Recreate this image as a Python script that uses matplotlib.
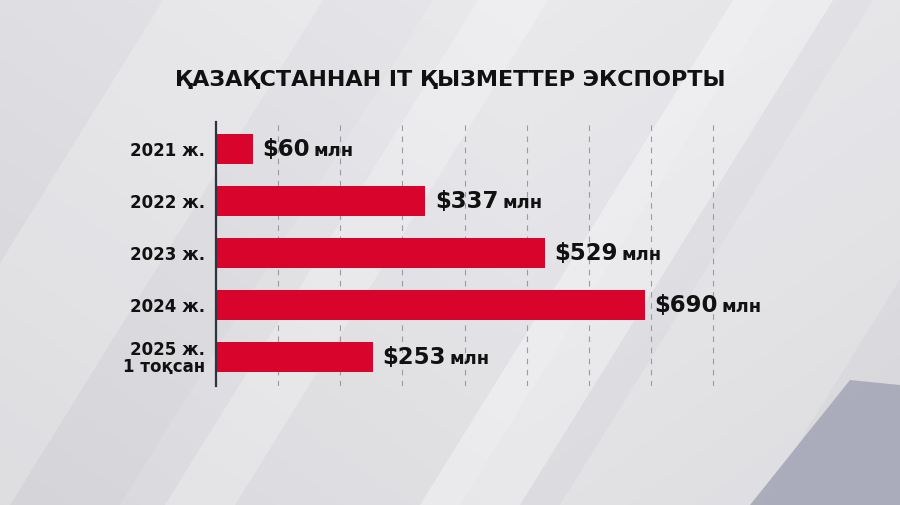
import numpy as np
import matplotlib.pyplot as plt
from matplotlib.patches import Polygon

# data
categories = ["2021 ж.", "2022 ж.", "2023 ж.", "2024 ж.", "2025 ж.\n1 тоқсан"]
values = [60, 337, 529, 690, 253]
unit = "млн"
title = "ҚАЗАҚСТАННАН IT ҚЫЗМЕТТЕР ЭКСПОРТЫ"

bar_color = "#d9042b"
font = ["DejaVu Sans"]

fig = plt.figure(figsize=(9, 5.05), dpi=100)

# background: soft grey gradient with diagonal light stripes
bg = fig.add_axes([0, 0, 1, 1])
bg.set_xlim(0, 900)
bg.set_ylim(505, 0)
bg.axis("off")
yy, xx = np.mgrid[0:505, 0:900]
shade = 0.905 - 0.04 * (yy / 505) - 0.03 * np.abs(xx - 520) / 520
img = np.dstack([shade, shade, shade + 0.015])
bg.imshow(np.clip(img, 0, 1), extent=(0, 900, 505, 0), aspect="auto", zorder=0)

slant = 0.62 * 505
# (left x at bottom edge, right x at bottom edge, colour, alpha)
stripes = [
    (-150, 10, "#ffffff", 0.22),
    (165, 235, "#ffffff", 0.25),
    (120, 460, "#ffffff", 0.12),
    (420, 520, "#ffffff", 0.35),
    (560, 760, "#ffffff", 0.18),
    (900, 1000, "#ffffff", 0.20),
]
for x0, x1, c, a in stripes:
    pts = [(x0, 505), (x1, 505), (x1 + slant, 0), (x0 + slant, 0)]
    bg.add_patch(Polygon(pts, closed=True, color=c, alpha=a, lw=0, zorder=1))
# darker band in the lower right corner
bg.add_patch(Polygon([(750, 505), (900, 505), (900, 385), (850, 380)],
                     closed=True, color="#a3a5b6", alpha=0.85, lw=0, zorder=1))

# title
fig.text(0.5, 1 - 80 / 505, title, ha="center", va="center", fontsize=16,
         fontweight="bold", family=font, color="#111111")

# main chart
ax = fig.add_axes([216 / 900, 1 - 386 / 505, (730 - 216) / 900, (386 - 122) / 505])
ax.patch.set_alpha(0)
ypos = np.arange(len(categories))
ax.barh(ypos, values, height=0.58, color=bar_color, zorder=3)
ax.set_xlim(0, 827)
ax.set_ylim(4.56, -0.52)

ax.set_xticks(range(100, 900, 100))
ax.xaxis.grid(True, linestyle=(0, (5, 5)), color="#9a9aa4", linewidth=0.8, zorder=1)
ax.tick_params(axis="x", length=0, labelbottom=False)
ax.set_yticks(ypos)
ax.set_yticklabels(categories, fontsize=12, fontweight="bold", family=font,
                   color="#111111", linespacing=0.95)
ax.tick_params(axis="y", length=0, pad=8)
for s in ["top", "right", "bottom"]:
    ax.spines[s].set_visible(False)
ax.spines["left"].set_color("#2b3440")
ax.spines["left"].set_linewidth(1.6)
ax.spines["left"].set_zorder(4)

# value labels: big "$N" followed by smaller unit
labels = []
for y, v in zip(ypos, values):
    t = ax.text(v + 15, y + 0.14, f"${v}", fontsize=16.5, fontweight="bold",
                family=font, va="baseline", ha="left", color="#111111", zorder=5)
    labels.append(t)

fig.canvas.draw()
inv = ax.transData.inverted()
for t, y in zip(labels, ypos):
    bb = t.get_window_extent()
    x_end = inv.transform((bb.x1, bb.y0))[0]
    ax.text(x_end + 6, y + 0.14, unit, fontsize=13, fontweight="bold",
            family=font, va="baseline", ha="left", color="#111111", zorder=5)

fig.savefig("out.png", dpi=100)
